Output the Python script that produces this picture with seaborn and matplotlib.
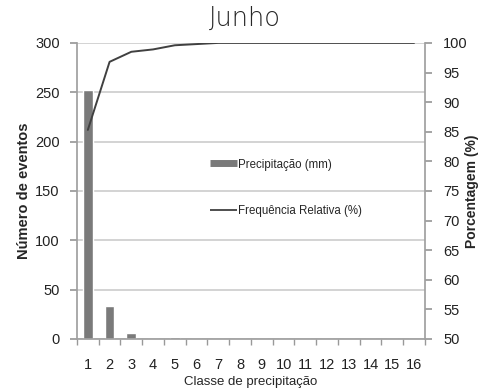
import numpy as np
import pandas as pd
import matplotlib
matplotlib.use("Agg")
import matplotlib.pyplot as plt
import seaborn as sns
from matplotlib.lines import Line2D

# data
classes = list(range(1, 17))
events = [252, 33, 6, 0, 2, 0, 0, 0, 0, 0, 0, 0, 0, 0, 0, 0]
freq_rel = [85.3, 96.8, 98.5, 98.9, 99.6, 99.8, 100, 100, 100, 100, 100, 100, 100, 100, 100, 100]

df = pd.DataFrame({"classe": classes, "eventos": events, "freq": freq_rel})

sns.set_theme(style="white")
plt.rcParams['font.family'] = ['Liberation Sans', 'DejaVu Sans']

fig = plt.figure(figsize=(4.84, 3.90), dpi=100)
ax = fig.add_axes([0.159, 0.131, 0.719, 0.759])

sns.barplot(data=df, x="classe", y="eventos", native_scale=True, color="#7a7a7a",
            saturation=1, width=0.45, ax=ax)
ax.set_xlim(0.5, 16.5)
ax.set_ylim(0, 300)
ax.set_yticks(np.arange(0, 301, 50))
ax.yaxis.grid(True, color="#d0d0d0", lw=1.3)
ax.set_axisbelow(True)
ax.set_xticks(classes)
ax.set_xticks(np.arange(0.5, 17, 1), minor=True)
ax.tick_params(axis="x", which="major", length=0, labelsize=10.5, pad=14, colors="#222222")
ax.tick_params(axis="x", which="minor", length=4, color="#999999", direction="out", bottom=True)
ax.tick_params(axis="y", labelsize=10.5, length=5, color="#999999", left=True, pad=7.5,
               labelcolor="#222222")
ax.set_xlabel("Classe de precipitação", fontsize=9.5)
ax.xaxis.set_label_coords(0.5, -0.125)
ax.set_ylabel("Número de eventos", fontsize=10.5, fontweight="bold", labelpad=3)
for s in ["left", "bottom"]:
    ax.spines[s].set_color("#a0a0a0")
ax.spines["top"].set_visible(False)
ax.spines["right"].set_visible(False)

ax2 = ax.twinx()
sns.lineplot(data=df, x="classe", y="freq", color="#404040", lw=1.4, ax=ax2)
ax2.set_ylim(50, 100)
ax2.set_yticks(np.arange(50, 101, 5))
ax2.tick_params(axis="y", labelsize=10.5, length=5, color="#999999", right=True, pad=8,
                labelcolor="#222222")
ax2.set_ylabel("Porcentagem (%)", fontsize=10, fontweight="bold")
ax2.yaxis.set_label_coords(1.115, 0.5)
ax2.spines["right"].set_color("#a0a0a0")
ax2.spines["top"].set_visible(False)
ax2.spines["left"].set_visible(False)
ax2.spines["bottom"].set_visible(False)
ax2.set_xlim(0.5, 16.5)

fig.suptitle("Junho", fontsize=18.5, y=0.985, va="top", x=0.505,
             family="DejaVu Sans", fontweight="light")

handles = [Line2D([0], [0], color="#7a7a7a", lw=5, solid_capstyle="butt"),
           Line2D([0], [0], color="#404040", lw=1.3, solid_capstyle="butt")]
ax2.legend(handles, ["Precipitação (mm)", "Frequência Relativa (%)"], loc="upper left",
           bbox_to_anchor=(0.368, 0.625), frameon=False, fontsize=8.3, handlelength=2.4,
           handletextpad=0.05, labelspacing=3.0, borderaxespad=0)

fig.savefig("out.png", dpi=100)
